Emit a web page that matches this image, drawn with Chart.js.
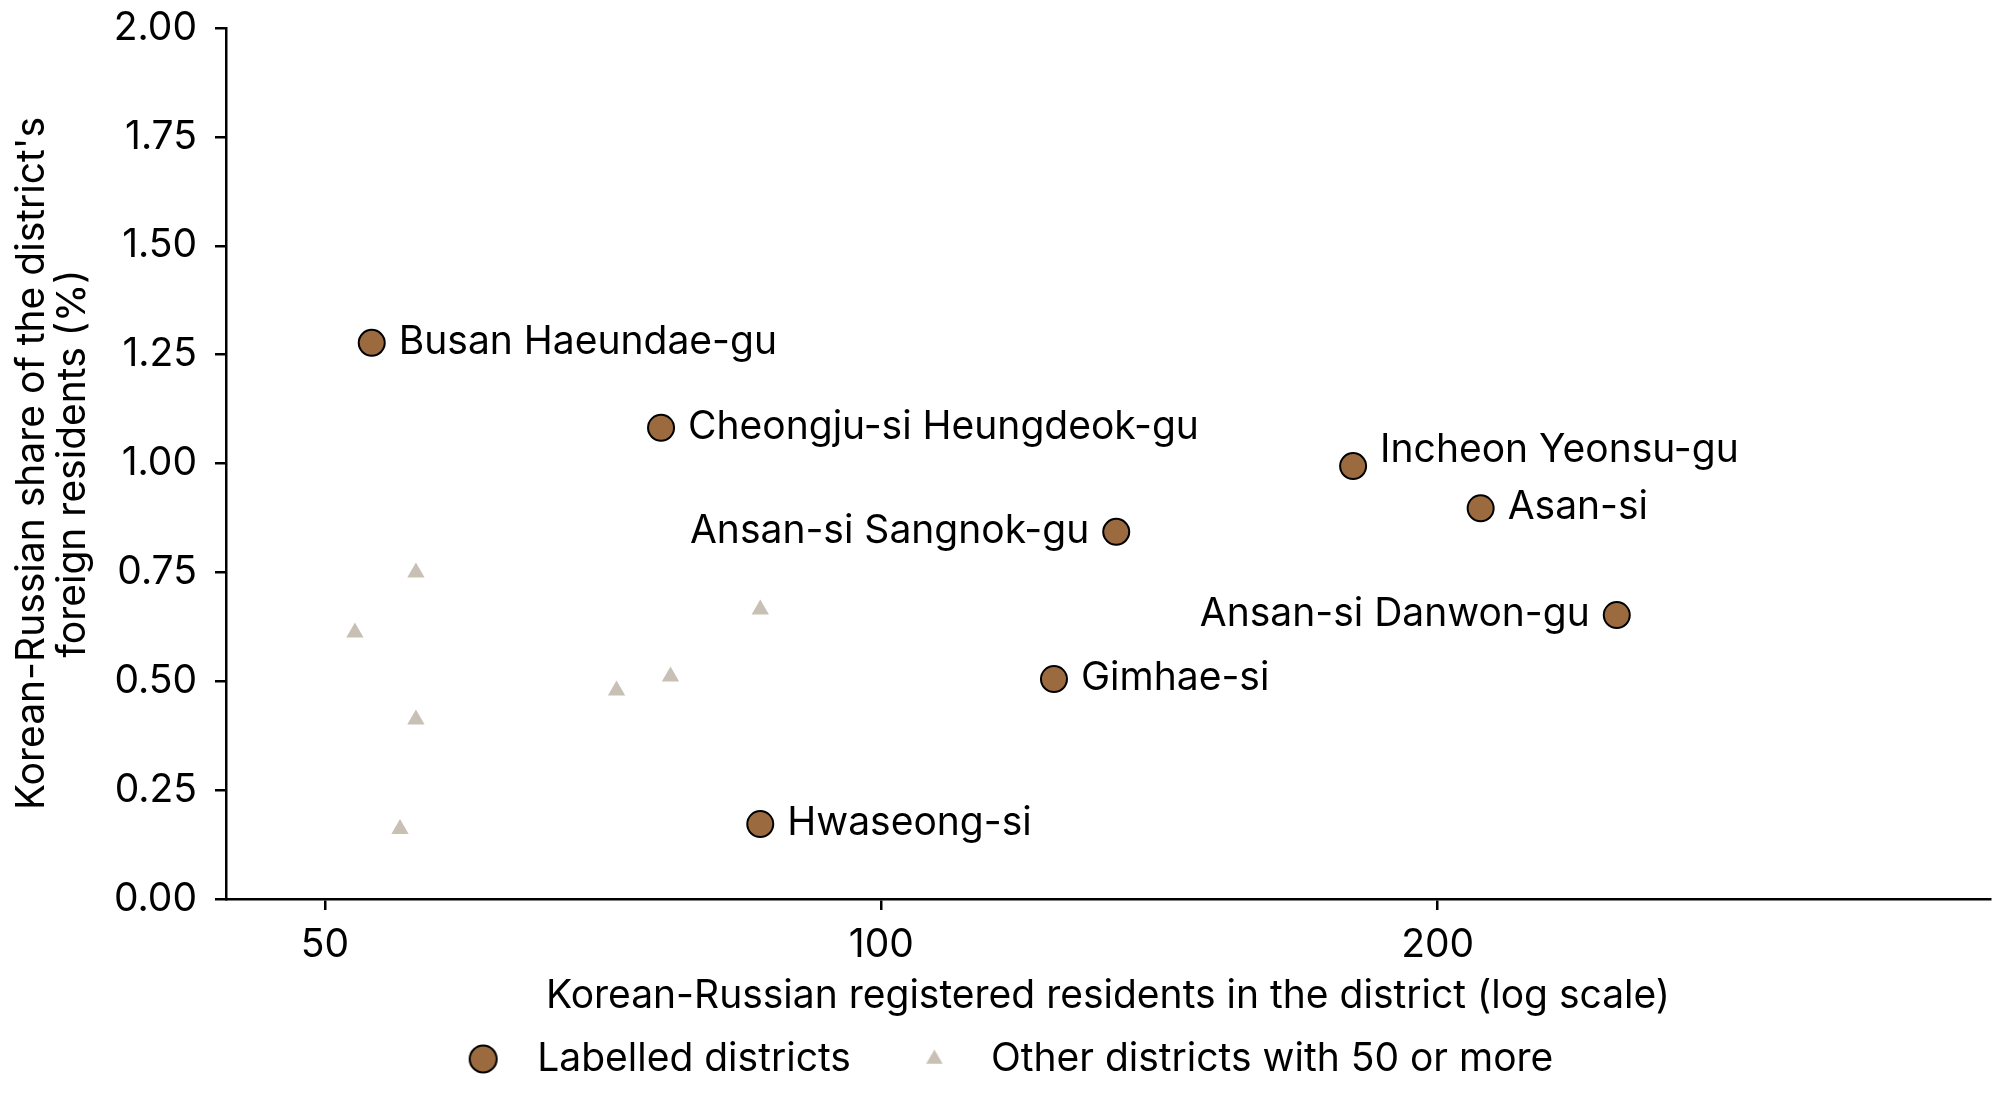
<!DOCTYPE html>
<html>
<head>
<meta charset="utf-8">
<script src="https://cdn.jsdelivr.net/npm/chart.js@4.4.1/dist/chart.umd.min.js"></script>
<style>
  html, body { margin: 0; padding: 0; background: #ffffff; }
  #wrap { width: 2007px; height: 1096px; position: relative; }
</style>
</head>
<body>
<div id="wrap"><canvas id="c"></canvas></div>
<script>
// ---- data ----
const labelledNames = [
  "Busan Haeundae-gu",
  "Cheongju-si Heungdeok-gu",
  "Incheon Yeonsu-gu",
  "Asan-si",
  "Ansan-si Sangnok-gu",
  "Ansan-si Danwon-gu",
  "Gimhae-si",
  "Hwaseong-si"
];
const labelledCounts = [53, 76, 180, 211, 134, 250, 124, 86];
const labelledShares = [1.277, 1.082, 0.994, 0.897, 0.843, 0.652, 0.505, 0.172];

const otherCounts = [51.9, 56, 56, 54.9, 71.9, 76.9, 86];
const otherShares = [0.612, 0.75, 0.412, 0.161, 0.479, 0.511, 0.665];

const xTickValues = [50, 100, 200];
const seriesNames = ["Labelled districts", "Other districts with 50 or more"];
const xTitle = "Korean-Russian registered residents in the district (log scale)";
const yTitle = ["Korean-Russian share of the district's", "foreign residents (%)"];

// ---- label placement (style) ----
const leftLabelled = ["Ansan-si Sangnok-gu", "Ansan-si Danwon-gu"];
const labelNudgeY = { "Incheon Yeonsu-gu": -15 };

// ---- styles ----
const BROWN = "#9b6b3f";
const GREY = "#c8bfb5";
const FONT = "Inter, 'Noto Sans', sans-serif";
const FS = 39;
const LEG_W = 99;          // legend marker box width
const LEG_OFF = [15, 12.5]; // marker offset from box centre
const PAD_L = -18;

// legend marker images
function makeMarker(kind, off) {
  const cv = document.createElement("canvas");
  cv.width = LEG_W; cv.height = 40;
  const g = cv.getContext("2d");
  const cx = LEG_W / 2 + off, cy = 20;
  if (kind === "circle") {
    g.beginPath();
    g.arc(cx, cy, 13.5, 0, Math.PI * 2);
    g.fillStyle = BROWN; g.fill();
    g.lineWidth = 2; g.strokeStyle = "#000"; g.stroke();
  } else {
    const r = 9.5;
    g.beginPath();
    g.moveTo(cx, cy - r);
    g.lineTo(cx + r * Math.sin(2 * Math.PI / 3), cy - r * Math.cos(2 * Math.PI / 3));
    g.lineTo(cx + r * Math.sin(4 * Math.PI / 3), cy - r * Math.cos(4 * Math.PI / 3));
    g.closePath();
    g.fillStyle = GREY; g.fill();
  }
  return cv;
}
const legendMarkers = [makeMarker("circle", LEG_OFF[0]), makeMarker("triangle", LEG_OFF[1])];

const pointLabelPlugin = {
  id: "pointLabels",
  afterDatasetsDraw(chart) {
    const meta = chart.getDatasetMeta(0);
    const ctx = chart.ctx;
    ctx.save();
    ctx.font = FS + "px " + FONT;
    ctx.fillStyle = "#000";
    ctx.textBaseline = "middle";
    meta.data.forEach((el, i) => {
      const name = labelledNames[i];
      const left = leftLabelled.includes(name);
      const dy = -1 + (labelNudgeY[name] || 0);
      ctx.textAlign = left ? "right" : "left";
      ctx.fillText(name, el.x + (left ? -27 : 27), el.y + dy);
    });
    ctx.restore();
  }
};

const ctx = document.getElementById("c").getContext("2d");
new Chart(ctx, {
  type: "scatter",
  data: {
    datasets: [
      {
        label: seriesNames[0],
        data: labelledCounts.map((v, i) => ({ x: v, y: labelledShares[i] })),
        pointStyle: "circle",
        pointRadius: 13,
        pointBorderWidth: 2,
        pointBackgroundColor: BROWN,
        pointBorderColor: "#000",
        backgroundColor: BROWN,
        borderColor: "#000",
        order: 0
      },
      {
        label: seriesNames[1],
        data: otherCounts.map((v, i) => ({ x: v, y: otherShares[i] })),
        pointStyle: "triangle",
        pointRadius: 10,
        pointBorderWidth: 0,
        pointBackgroundColor: GREY,
        backgroundColor: GREY,
        borderColor: GREY,
        order: 1
      }
    ]
  },
  options: {
    responsive: true,
    maintainAspectRatio: false,
    animation: false,
    events: [],
    layout: { padding: { left: PAD_L, right: 17, top: 28, bottom: 7.5 } },
    scales: {
      x: {
        type: "logarithmic",
        min: 44.2,
        max: 398,
        afterBuildTicks(scale) { scale.ticks = xTickValues.map(v => ({ value: v })); },
        afterFit(scale) { scale.height = 119; scale.paddingLeft = 0; scale.paddingRight = 0; },
        ticks: {
          callback: (v) => String(v),
          color: "#000",
          font: { family: FONT, size: FS },
          padding: 11.6,
          maxRotation: 0,
          autoSkip: false
        },
        grid: { display: true, drawOnChartArea: false, drawTicks: true, tickLength: 11, color: "#000", lineWidth: 2.5 },
        border: { display: true, color: "#000", width: 2.5 },
        title: {
          display: true,
          text: xTitle,
          color: "#000",
          font: { family: FONT, size: FS, lineHeight: 1.1 },
          padding: { top: 0, bottom: 0.5 }
        }
      },
      y: {
        min: 0,
        max: 2,
        afterFit(scale) { scale.width = 226 - PAD_L; scale.paddingTop = 0; scale.paddingBottom = 0; },
        ticks: {
          stepSize: 0.25,
          callback: (v) => Number(v).toFixed(2),
          color: "#000",
          font: { family: FONT, size: FS },
          padding: 18
        },
        grid: { display: true, drawOnChartArea: false, drawTicks: true, tickLength: 11, color: "#000", lineWidth: 2.5 },
        border: { display: true, color: "#000", width: 2.5 },
        title: {
          display: true,
          text: yTitle,
          color: "#000",
          font: { family: FONT, size: FS, lineHeight: 1.05 },
          padding: { top: 11.5 - PAD_L, bottom: 0 }
        }
      }
    },
    plugins: {
      tooltip: { enabled: false },
      legend: {
        display: true,
        position: "bottom",
        labels: {
          usePointStyle: true,
          pointStyleWidth: LEG_W,
          padding: 21.5,
          color: "#000",
          font: { family: FONT, size: FS },
          generateLabels(chart) {
            const items = Chart.defaults.plugins.legend.labels.generateLabels(chart);
            items.forEach((it, i) => { it.pointStyle = legendMarkers[i]; });
            return items;
          }
        }
      }
    }
  },
  plugins: [pointLabelPlugin]
});
</script>
</body>
</html>
